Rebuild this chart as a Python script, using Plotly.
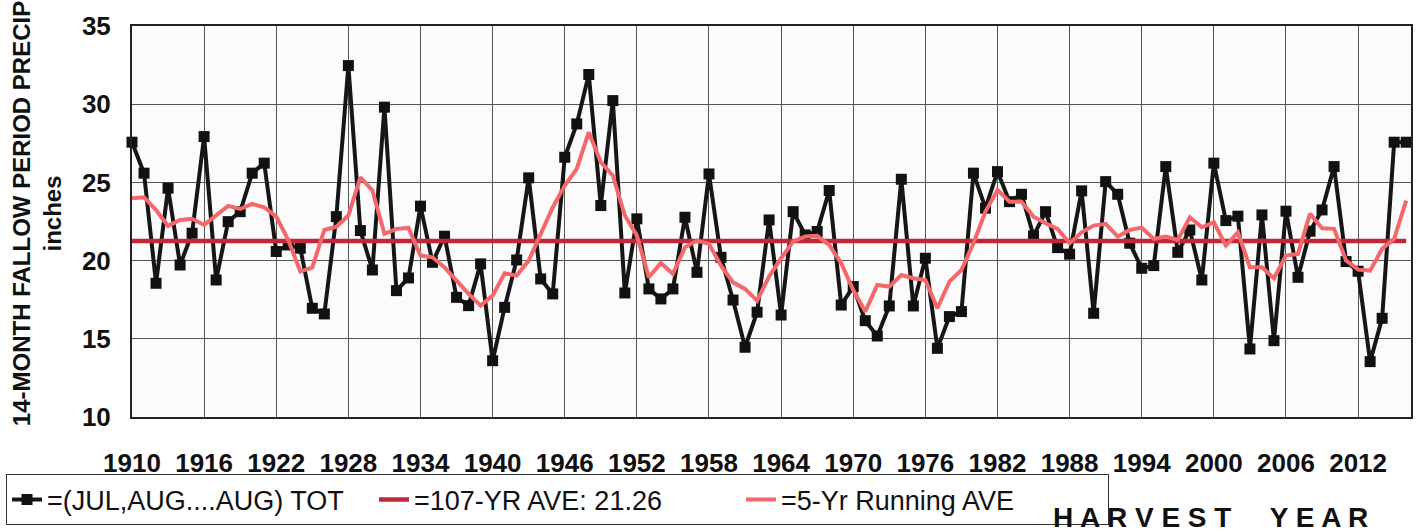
import plotly.graph_objects as go

years = list(range(1910, 2017))

total = [
    27.57, 25.59, 18.55, 24.63, 19.72, 21.75, 27.93, 18.76, 22.49, 23.13,
    25.59, 26.23, 20.58, 21.00, 20.79, 16.95, 16.59, 22.81, 32.47, 21.92,
    19.40, 29.81, 18.08, 18.89, 23.48, 19.89, 21.56, 17.65, 17.12, 19.79,
    13.60, 17.01, 20.04, 25.29, 18.83, 17.87, 26.61, 28.74, 31.90, 23.52,
    30.23, 17.93, 22.67, 18.19, 17.55, 18.19, 22.77, 19.25, 25.54, 20.21,
    17.48, 14.46, 16.70, 22.60, 16.52, 23.13, 21.64, 21.86, 24.48, 17.16,
    18.34, 16.16, 15.18, 17.10, 25.20, 17.10, 20.15, 14.39, 16.42, 16.74,
    25.59, 23.35, 25.69, 23.77, 24.24, 21.58, 23.13, 20.83, 20.41, 24.46,
    16.63, 25.05, 24.24, 21.11, 19.51, 19.68, 26.01, 20.53, 21.96, 18.76,
    26.23, 22.56, 22.84, 14.35, 22.92, 14.88, 23.16, 18.93, 21.88, 23.24,
    26.01, 19.94, 19.32, 13.54, 16.31, 27.57, 27.57,
]

running = [
    23.99, 24.05, 23.24, 22.22, 22.60, 22.67, 22.28, 22.92, 23.50, 23.30,
    23.62, 23.41, 22.81, 21.32, 19.30, 19.57, 21.96, 22.17, 22.88, 25.33,
    24.48, 21.71, 22.03, 22.09, 20.32, 20.21, 19.57, 18.72, 17.87, 17.12,
    17.76, 19.19, 19.04, 20.00, 21.71, 23.40, 24.80, 25.86, 28.21, 26.29,
    25.44, 22.88, 21.60, 18.93, 19.85, 19.15, 20.85, 21.28, 21.07, 19.68,
    18.61, 18.19, 17.44, 18.98, 20.15, 21.22, 21.54, 21.58, 21.00, 19.83,
    18.12, 16.74, 18.44, 18.34, 19.08, 18.87, 18.76, 16.95, 18.66, 19.40,
    21.11, 23.13, 24.52, 23.77, 23.77, 22.81, 22.39, 22.03, 21.11, 21.81,
    22.24, 22.35, 21.54, 21.96, 22.11, 21.39, 21.54, 21.32, 22.77, 22.13,
    22.45, 20.96, 21.81, 19.57, 19.57, 18.87, 20.32, 20.43, 23.00, 22.07,
    22.03, 20.00, 19.42, 19.36, 20.75, 21.39, 23.84,
]

average = 21.26
tick_years = list(range(1910, 2013, 6))
tick_labels = [str(y) for y in tick_years]
y_ticks = [10, 15, 20, 25, 30, 35]

names = ["=(JUL,AUG....AUG) TOT", "=107-YR AVE: 21.26", "=5-Yr Running AVE"]

FONT = "Liberation Sans, Arial, sans-serif"

fig = go.Figure()
fig.add_trace(go.Scatter(
    x=years, y=total, name=names[0], mode="lines+markers",
    line=dict(color="#161616", width=4),
    marker=dict(symbol="square", size=11, color="#111111"),
    cliponaxis=False,
))
fig.add_trace(go.Scatter(
    x=years, y=[average] * len(years), name=names[1], mode="lines",
    line=dict(color="#C0283A", width=4.5),
))
fig.add_trace(go.Scatter(
    x=years, y=running, name=names[2], mode="lines",
    line=dict(color="#F4676B", width=4),
))

fig.update_layout(
    width=1419, height=532,
    margin=dict(l=127, r=6, t=26, b=112),
    paper_bgcolor="#FFFFFF",
    plot_bgcolor="#FBFBFB",
    font=dict(family=FONT, color="#111111"),
    showlegend=True,
    legend=dict(
        orientation="h",
        x=-0.0985, y=-0.147, xanchor="left", yanchor="top",
        bordercolor="#333333", borderwidth=1, bgcolor="#FFFFFF",
        font=dict(size=27, family=FONT, color="#111111"),
        entrywidthmode="pixels", entrywidth=322,
        itemwidth=30,
    ),
)

fig.update_xaxes(
    range=[1910, 2016.4],
    tickvals=tick_years, ticktext=tick_labels,
    showgrid=True, gridcolor="#555555", gridwidth=1,
    showline=True, linecolor="#222222", linewidth=2, mirror=True,
    ticks="", ticklabelstandoff=22,
    tickfont=dict(size=26, family=FONT, weight="bold", color="#111111"),
    zeroline=False,
)
fig.update_yaxes(
    range=[10, 35],
    tickvals=y_ticks,
    showgrid=True, gridcolor="#555555", gridwidth=1,
    showline=True, linecolor="#222222", linewidth=2, mirror=True,
    ticks="", ticklabelstandoff=14,
    tickfont=dict(size=26, family=FONT, weight="bold", color="#111111"),
    zeroline=False,
)

fig.add_annotation(
    text="14-MONTH FALLOW PERIOD PRECIP<br>inches",
    xref="paper", yref="paper", x=-0.0747, y=0.52,
    xanchor="center", yanchor="middle", textangle=-90, showarrow=False,
    font=dict(size=24, family=FONT, weight="bold", color="#111111"),
)
fig.add_annotation(
    text="H A R V E S T &nbsp; &nbsp; Y E A R",
    xref="paper", yref="paper", x=0.843, y=-0.257,
    xanchor="center", yanchor="middle", showarrow=False,
    font=dict(size=28, family=FONT, weight="bold", color="#111111"),
)

fig.write_html(
    "out.html",
    config={"displayModeBar": False},
    post_script="document.body.style.margin='0px';",
)
